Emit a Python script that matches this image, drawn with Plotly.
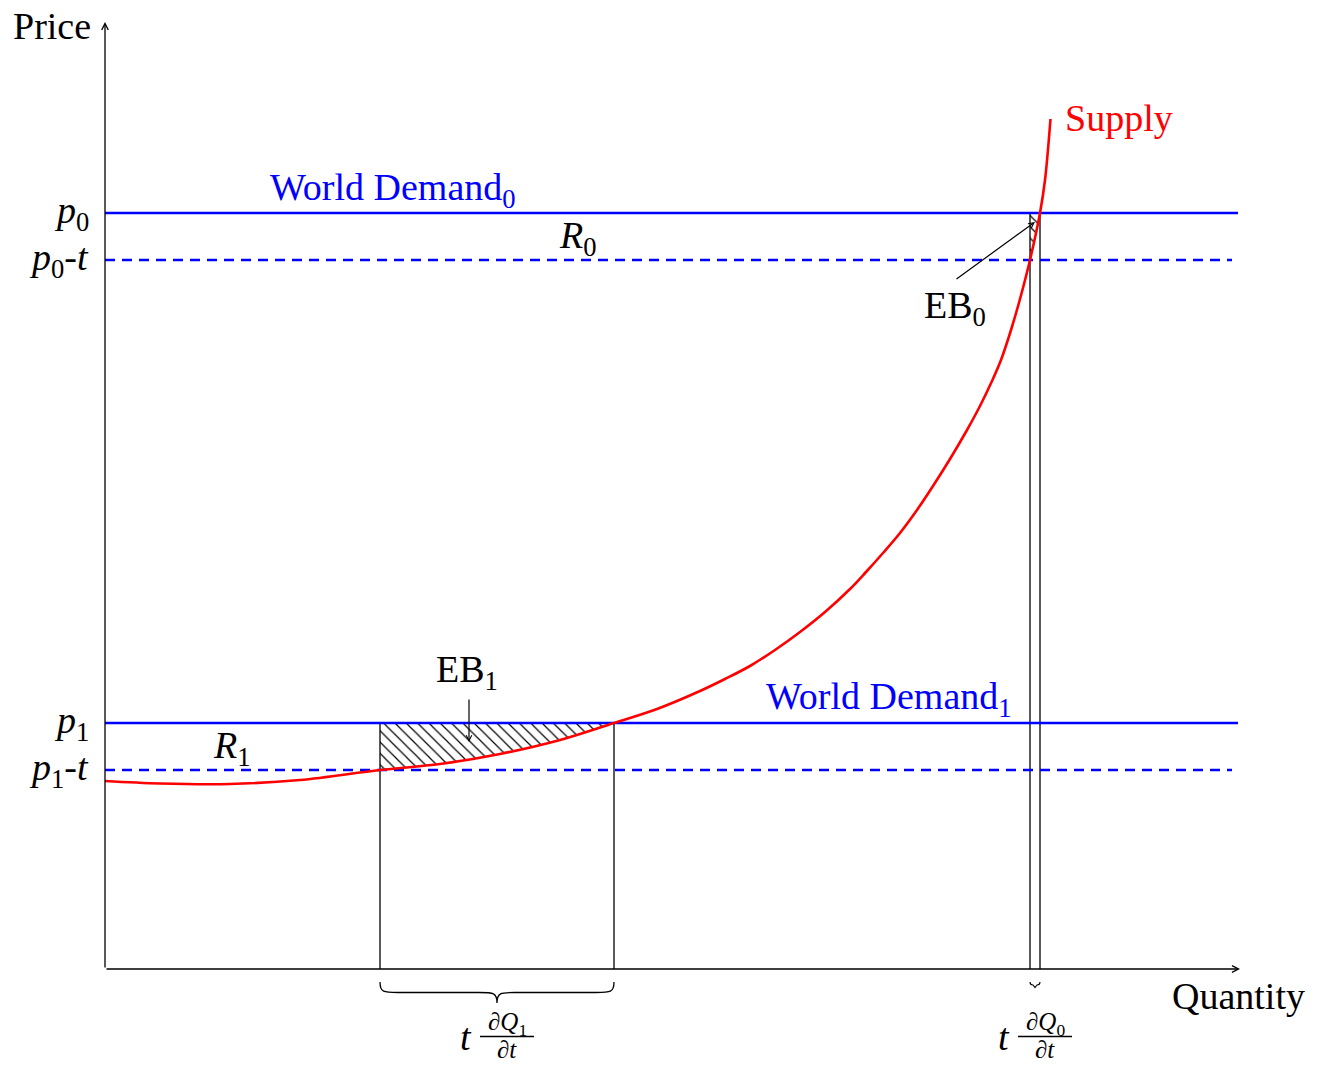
import plotly.graph_objects as go

# ---- market data (quantity, price units) ----
supply_q = [0.00, 0.55, 1.25, 1.95, 2.75, 3.35, 3.95, 4.55, 5.09, 5.52,
            5.95, 6.20, 6.45, 6.70, 6.95, 7.20, 7.45, 7.61, 7.78, 7.95,
            8.12, 8.28, 8.45, 8.62, 8.75, 8.87, 8.96, 9.06, 9.15, 9.25,
            9.35, 9.40, 9.455]
supply_p = [1.88, 1.855, 1.85, 1.89, 1.99, 2.05, 2.15, 2.29, 2.46, 2.60,
            2.78, 2.90, 3.03, 3.19, 3.37, 3.57, 3.80, 3.97, 4.16, 4.36,
            4.59, 4.83, 5.10, 5.39, 5.63, 5.88, 6.09, 6.39, 6.70, 7.09,
            7.56, 7.89, 8.50]

prices = {"p0": 7.56, "p1": 2.46}
tax = 0.47
q1_range = [2.75, 5.09]   # quantity response at world demand 1
q0_range = [9.25, 9.35]   # quantity response at world demand 0

x_axis_end = 11.35
y_axis_end = 9.47
line_end = 11.33
dash_end = 11.27

FONT = "Liberation Serif"
FS = 38
BLUE = "#0000ff"
RED = "#ff0000"

fig = go.Figure()


def hatch_polygon(q_lo, q_hi, p_top):
    """Area between a horizontal price line and the supply curve."""
    seg = [(q, p) for q, p in zip(supply_q, supply_p) if q_lo <= q <= q_hi]
    xs = [q_lo, q_hi] + [q for q, _ in reversed(seg)]
    ys = [p_top, p_top] + [p for _, p in reversed(seg)]
    return xs, ys


for (lo, hi), top in ((q1_range, prices["p1"]), (q0_range, prices["p0"])):
    xs, ys = hatch_polygon(lo, hi, top)
    fig.add_trace(go.Scatter(
        x=xs, y=ys, mode="lines", fill="toself", line=dict(width=0),
        fillcolor="white",
        fillpattern=dict(shape="\\", size=8, solidity=0.15,
                         fgcolor="black", bgcolor="white", fgopacity=1),
        hoverinfo="skip", showlegend=False))

# vertical quantity markers
for lo_hi, top in ((q1_range, prices["p1"]), (q0_range, prices["p0"])):
    for q in lo_hi:
        fig.add_trace(go.Scatter(x=[q, q], y=[0, top], mode="lines",
                                 line=dict(color="black", width=1.3),
                                 hoverinfo="skip", showlegend=False))

# world demand lines (solid) and post-tax prices (dashed)
for key in ("p0", "p1"):
    p = prices[key]
    fig.add_trace(go.Scatter(x=[0, line_end], y=[p, p], mode="lines",
                             line=dict(color=BLUE, width=2.6),
                             hoverinfo="skip", showlegend=False))
    fig.add_trace(go.Scatter(x=[0, dash_end], y=[p - tax, p - tax], mode="lines",
                             line=dict(color=BLUE, width=2.6, dash="10px,7px"),
                             hoverinfo="skip", showlegend=False))

# supply curve
fig.add_trace(go.Scatter(x=supply_q, y=supply_p, mode="lines",
                         line=dict(color=RED, width=2.6, shape="spline", smoothing=1.0),
                         hoverinfo="skip", showlegend=False))

annotations = []

# axes with arrow tips
for (x, y) in ((x_axis_end, 0), (0, y_axis_end)):
    annotations.append(dict(x=x, y=y, ax=0, ay=0, xref="x", yref="y",
                            axref="x", ayref="y", text="", showarrow=True,
                            arrowhead=5, arrowsize=1.0, arrowwidth=1.3,
                            arrowcolor="black", standoff=0, startstandoff=0))


def label(text, x, y, color="black", xanchor="center", size=FS, height=None):
    ann = dict(x=x, y=y, xref="x", yref="y", text=text,
               showarrow=False, xanchor=xanchor, yanchor="middle",
               font=dict(family=FONT, size=size, color=color))
    if height is not None:
        ann["height"] = height
    annotations.append(ann)


label("Price", -0.53, 9.43)
label("Quantity", 11.33, -0.27)

label("<i>p</i><sub>0</sub>", -0.14, prices["p0"], xanchor="right")
label("<i>p</i><sub>0</sub>-<i>t</i>", -0.14, prices["p0"] - tax, xanchor="right")
label("<i>p</i><sub>1</sub>", -0.14, prices["p1"], xanchor="right")
label("<i>p</i><sub>1</sub>-<i>t</i>", -0.14, prices["p1"] - tax, xanchor="right")

label("World Demand<sub>0</sub>", 2.88, 7.79, color=BLUE)
label("World Demand<sub>1</sub>", 7.84, 2.70, color=BLUE)
label("Supply", 9.58, 8.51, color=RED, xanchor="left")

label("<i>R</i><sub>0</sub>", 4.73, 7.31)
label("<i>R</i><sub>1</sub>", 1.27, 2.21)
label("EB<sub>0</sub>", 8.50, 6.61)
label("EB<sub>1</sub>", 3.62, 2.97)

# pointer arrows for the excess-burden areas
for tail, head in (((8.50, 6.89), (9.30, 7.47)), ((3.64, 2.71), (3.64, 2.27))):
    annotations.append(dict(x=head[0], y=head[1], ax=tail[0], ay=tail[1],
                            xref="x", yref="y", axref="x", ayref="y", text="",
                            showarrow=True, arrowhead=5, arrowsize=0.9,
                            arrowwidth=1.2, arrowcolor="black",
                            standoff=0, startstandoff=0))

shapes = []


def brace(q_lo, q_hi):
    top, mid, tip = -0.13, -0.235, -0.34
    c = (q_lo + q_hi) / 2
    w = min(0.18, (q_hi - q_lo) / 4)
    return (f"M {q_lo},{top} C {q_lo},{mid} {q_lo + w * 0.2},{mid} {q_lo + w},{mid} "
            f"L {c - w},{mid} C {c - w * 0.2},{mid} {c},{mid} {c},{tip} "
            f"C {c},{mid} {c + w * 0.2},{mid} {c + w},{mid} "
            f"L {q_hi - w},{mid} C {q_hi - w * 0.2},{mid} {q_hi},{mid} {q_hi},{top}")


def small_brace(q_lo, q_hi):
    c = (q_lo + q_hi) / 2
    return (f"M {q_lo},-0.13 Q {q_lo},-0.16 {c - 0.02},-0.16 L {c},-0.185 "
            f"L {c + 0.02},-0.16 Q {q_hi},-0.16 {q_hi},-0.13")


shapes.append(dict(type="path", xref="x", yref="y", path=brace(*q1_range),
                   line=dict(color="black", width=1.3)))
shapes.append(dict(type="path", xref="x", yref="y", path=small_brace(*q0_range),
                   line=dict(color="black", width=1.1)))


def tax_fraction(sub, q_lo, q_hi):
    """t * dQ/dt label placed under the brace of a quantity interval."""
    mid = (q_lo + q_hi) / 2
    frac_x = mid + 0.10
    label("<i>t</i>", mid - 0.31, -0.68)
    label(f"∂<i>Q</i><sub>{sub}</sub>", frac_x, -0.545, size=25, height=26)
    label("∂<i>t</i>", frac_x, -0.80, size=25, height=22)
    shapes.append(dict(type="line", xref="x", yref="y",
                       x0=frac_x - 0.27, x1=frac_x + 0.27, y0=-0.675, y1=-0.675,
                       line=dict(color="black", width=1.4)))


tax_fraction(1, *q1_range)
tax_fraction(0, *q0_range)

fig.update_layout(
    width=1328, height=1065,
    margin=dict(l=0, r=0, t=0, b=0),
    paper_bgcolor="white", plot_bgcolor="white",
    xaxis=dict(range=[-1.05, 12.23], visible=False, fixedrange=True),
    yaxis=dict(range=[-0.96, 9.69], visible=False, fixedrange=True),
    annotations=annotations, shapes=shapes,
    showlegend=False,
)

fig.write_html("out.html")
